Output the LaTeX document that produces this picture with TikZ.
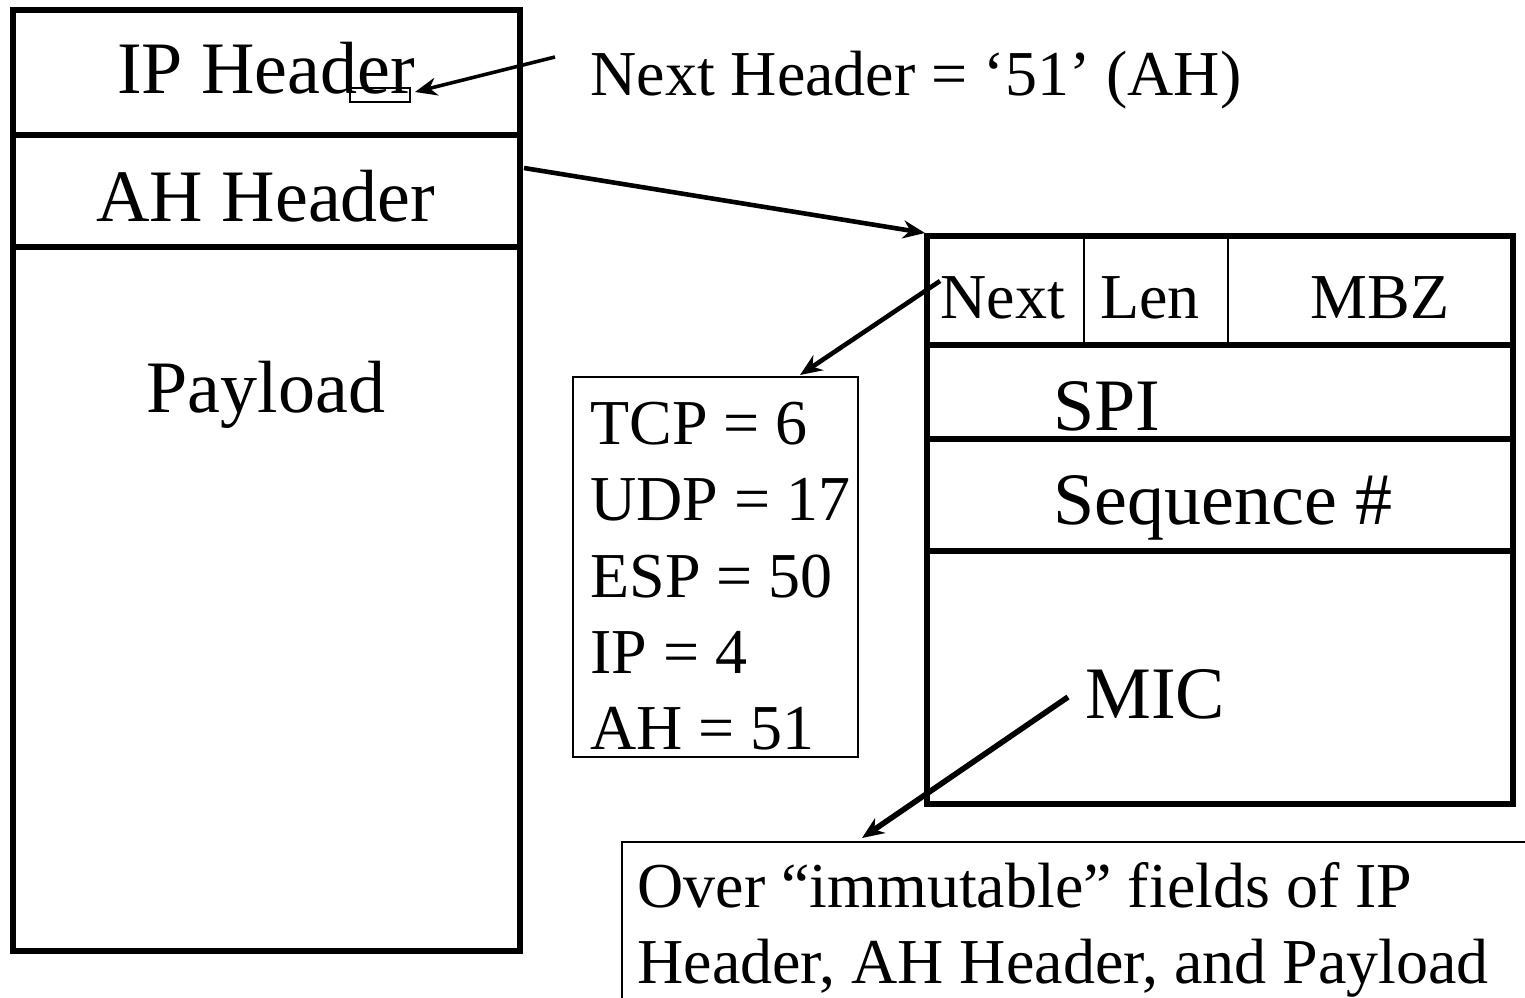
\documentclass[tikz,border=0pt]{standalone}
\usepackage{fontspec}
\setmainfont{Liberation Serif}
\usetikzlibrary{arrows.meta}
\begin{document}
\begin{tikzpicture}[x=0.5pt,y=-0.5pt,
  thickbox/.style={line width=2.6pt},
  divider/.style={line width=1.4pt},
  frame/.style={line width=1.1pt},
  big/.style={font=\fontsize{37}{44}\selectfont, inner sep=0pt},
  small/.style={font=\fontsize{32}{38}\selectfont, inner sep=0pt},
  arr/.style={-{Stealth[length=11pt,width=9pt,inset=3.5pt]}, line width=2.3pt},
]
\useasboundingbox (0,0) rectangle (1525,997);
\clip (0,0) rectangle (1525,997);

% ---- the IP packet ----
\draw[thickbox] (13,10) rectangle (520,951);
\draw[thickbox] (13,135) -- (522,135);
\draw[thickbox] (13,247) -- (523,247);
\node[big, anchor=base] (ip) at (266,93) {IP Header};
\node[big, anchor=base] (ah) at (266,221) {AH Header};
\node[big, anchor=base] (pl) at (266,412) {Payload};
\node[draw, line width=0.8pt, minimum width=30pt, minimum height=7pt, inner sep=0pt] (mark) at (380,95) {};

% ---- next-header note ----
\node[small, anchor=base west] (nh) at (590,95) {Next Header = ‘51’ (AH)};
\coordinate (nhtail) at (555,57);
\coordinate (marktip) at (415,92);
\draw[arr, line width=1.8pt] (nhtail) -- (marktip);

% ---- AH header layout ----
\draw[thickbox] (927,236) rectangle (1513,804);
\draw[thickbox] (927,345) -- (1513,345);
\draw[thickbox] (927,439) -- (1513,439);
\draw[thickbox] (927,551) -- (1513,551);
\draw[divider] (1084,236) -- (1084,345);
\draw[divider] (1228,236) -- (1228,345);
\node[small, anchor=base west] (next) at (940,318) {Next};
\node[small, anchor=base west] (len) at (1100,318) {Len};
\node[small, anchor=base west] (mbz) at (1310,318) {MBZ};
\node[big, anchor=base west] (spi) at (1053,430) {SPI};
\node[big, anchor=base west] (seq) at (1053,524) {Sequence \#};
\node[big, anchor=base west] (mic) at (1085,718) {MIC};

\coordinate (ahtail) at (524,168);
\coordinate (ahcorner) at (925,233);
\draw[arr] (ahtail) -- (ahcorner);

% ---- protocol numbers ----
\draw[frame] (573,377) rectangle (858,757);
\node[small, anchor=base west] (tcp) at (590,444) {TCP = 6};
\node[small, anchor=base west] (udp) at (590,520) {UDP = 17};
\node[small, anchor=base west] (esp) at (590,597) {ESP = 50};
\node[small, anchor=base west] (ipn) at (590,673) {IP = 4};
\node[small, anchor=base west] (ahn) at (590,749) {AH = 51};
\coordinate (nexttail) at (940,281);
\coordinate (protohead) at (800,375);
\draw[arr] (nexttail) -- (protohead);

% ---- MIC coverage note ----
\draw[frame] (622,842) rectangle (1600,1050);
\node[small, anchor=base west] (cov1) at (637,907) {Over “immutable” fields of IP};
\node[small, anchor=base west] (cov2) at (637,983) {Header, AH Header, and Payload};
\coordinate (mictail) at (1068,697);
\coordinate (covhead) at (862,838);
\draw[arr, line width=2.8pt] (mictail) -- (covhead);
\end{tikzpicture}
\end{document}
